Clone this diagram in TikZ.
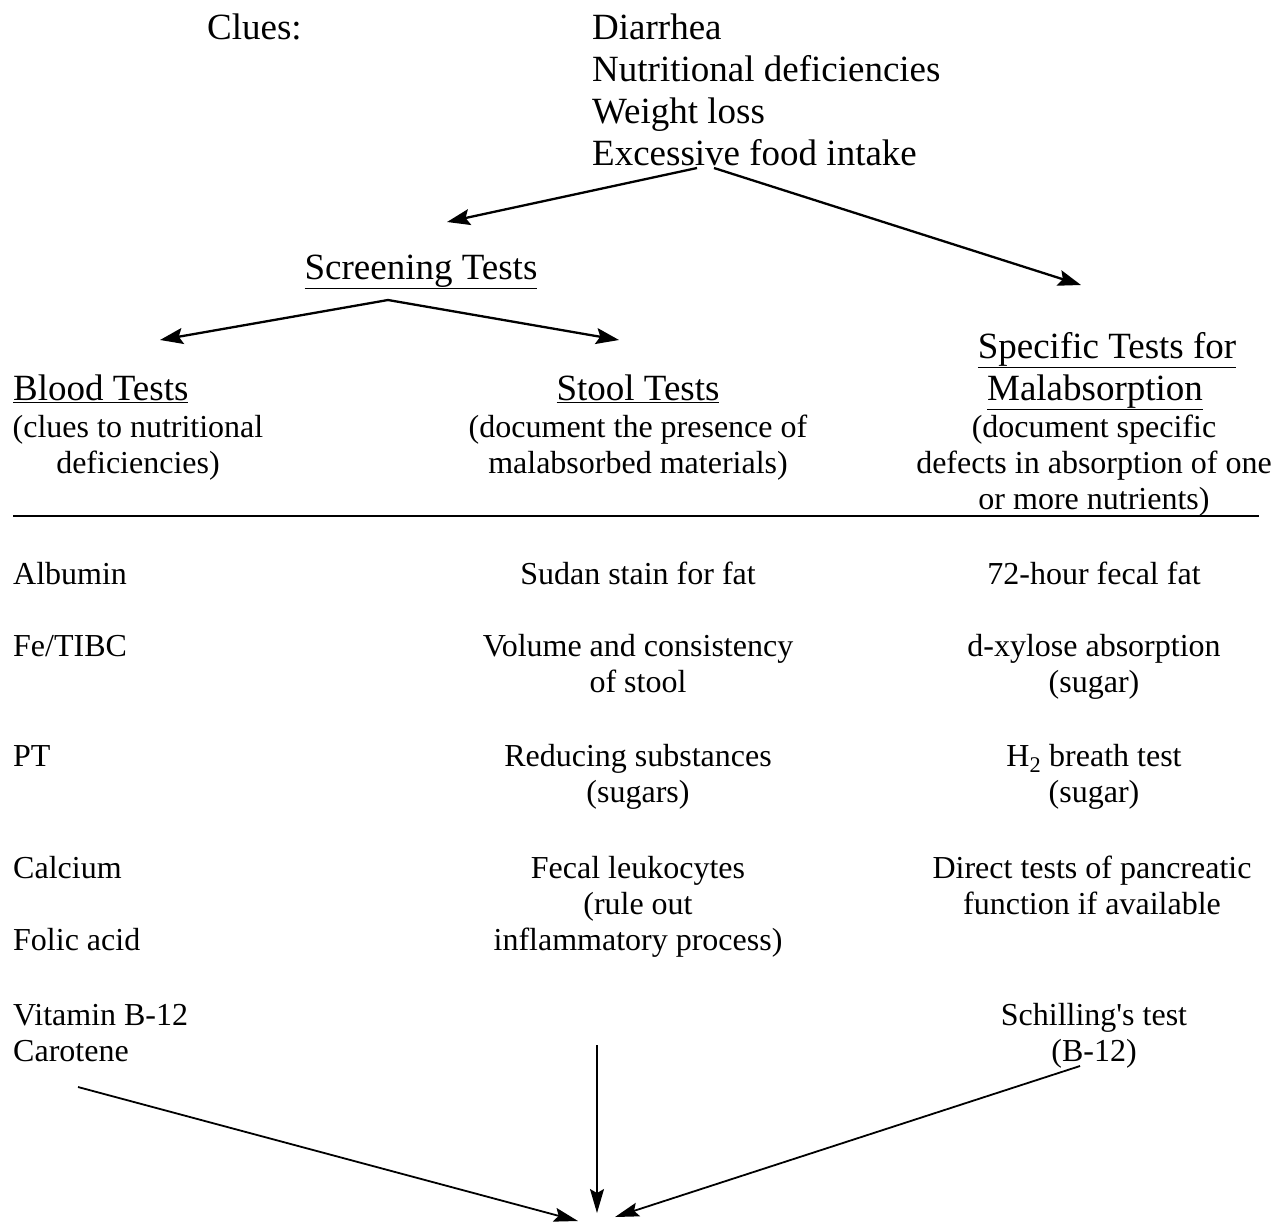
\documentclass[tikz,border=0pt]{standalone}
\usepackage{fontspec}
\setmainfont{Liberation Serif}
\usetikzlibrary{arrows.meta}

\begin{document}
\begin{tikzpicture}[x=1pt, y=-1pt]
    \tikzstyle{big text}=[
        font = \fontsize{37}{42}\selectfont,
        inner sep = 0pt
    ]
    \tikzstyle{body text}=[
        font = \fontsize{32}{36}\selectfont,
        inner sep = 0pt,
        align = center
    ]
    \tikzstyle{flow}=[
        line width = 2.3pt,
        -{Stealth[length=23pt, width=16pt, inset=4pt]}
    ]
    \tikzstyle{merge}=[
        line width = 1.8pt,
        -{Stealth[length=24pt, width=14pt, inset=4pt]}
    ]

    \useasboundingbox (0, 0) rectangle (1277, 1224);

    % clues (multi-line nodes sit on the base of their last line)
	\node[big text, anchor=base west] (clues)     at (207, 39)  {Clues:};
	\node[big text, anchor=base west, align=left] (clue list) at (592, 165)
        {Diarrhea\\Nutritional deficiencies\\Weight loss\\Excessive food intake};

    % headings
	\node[big text, anchor=base] (screening) at (421, 279) {\underline{Screening Tests}};
	\node[big text, anchor=base west] (blood)  at (13, 400)  {\underline{Blood Tests}};
	\node[big text, anchor=base] (stool)       at (638, 400) {\underline{Stool Tests}};
	\node[big text, anchor=base] (specific)    at (1107, 358) {\underline{Specific Tests for}};
	\node[big text, anchor=base] (malabs)      at (1095, 400) {\underline{Malabsorption}};

	\node[body text, anchor=base] (blood note)    at (138, 473)  {(clues to nutritional\\deficiencies)};
	\node[body text, anchor=base] (stool note)    at (638, 473)  {(document the presence of\\malabsorbed materials)};
	\node[body text, anchor=base] (specific note) at (1094, 509) {(document specific\\defects in absorption of one\\or more nutrients)};

    \coordinate (rule a) at (13, 516);
    \coordinate (rule b) at (1259, 516);
	\draw[line width=1.8pt] (rule a) -- (rule b);

    % blood tests
	\node[body text, anchor=base west] (albumin)  at (13, 584)  {Albumin};
	\node[body text, anchor=base west] (fetibc)   at (13, 656)  {Fe/TIBC};
	\node[body text, anchor=base west] (pt)       at (13, 766)  {PT};
	\node[body text, anchor=base west] (calcium)  at (13, 878)  {Calcium};
	\node[body text, anchor=base west] (folic)    at (13, 950)  {Folic acid};
	\node[body text, anchor=base west] (vitb)     at (13, 1025) {Vitamin B-12};
	\node[body text, anchor=base west] (carotene) at (13, 1061) {Carotene};

    % stool tests
	\node[body text, anchor=base] (sudan)     at (638, 584) {Sudan stain for fat};
	\node[body text, anchor=base] (volume)    at (638, 692) {Volume and consistency\\of stool};
	\node[body text, anchor=base] (reducing)  at (638, 802) {Reducing substances\\(sugars)};
	\node[body text, anchor=base] (leuko)     at (638, 950) {Fecal leukocytes\\(rule out\\inflammatory process)};

    % specific tests
	\node[body text, anchor=base] (fecal fat) at (1094, 584)  {72-hour fecal fat};
	\node[body text, anchor=base] (xylose)    at (1094, 692)  {d-xylose absorption\\(sugar)};
	\node[body text, anchor=base] (breath)    at (1094, 802)  {H\textsubscript{2} breath test\\(sugar)};
	\node[body text, anchor=base] (pancreas)  at (1092, 914)  {Direct tests of pancreatic\\function if available};
	\node[body text, anchor=base] (schilling) at (1094, 1061) {Schilling\textquotesingle s test\\(B-12)};

    % arrow ends
    \coordinate (clue out a)  at (697, 168);
    \coordinate (clue out b)  at (714, 168);
    \coordinate (screen in)   at (447, 222);
    \coordinate (specific in) at (1081, 285);
    \coordinate (screen out)  at (388, 300);
    \coordinate (blood in)    at (160, 340);
    \coordinate (stool in)    at (619, 340);
    \coordinate (blood out)   at (78, 1087);
    \coordinate (stool out)   at (597, 1045);
    \coordinate (spec out)    at (1080, 1066);
    \coordinate (end a)       at (578, 1221);
    \coordinate (end b)       at (597, 1213);
    \coordinate (end c)       at (615, 1217);

	\draw[flow] (clue out a) -- (screen in);
	\draw[flow] (clue out b) -- (specific in);
	\draw[flow] (screen out) -- (blood in);
	\draw[flow] (screen out) -- (stool in);
	\draw[merge] (blood out) -- (end a);
	\draw[merge, line width=1.2pt] (stool out) -- (end b);
	\draw[merge] (spec out) -- (end c);

\end{tikzpicture}
\end{document}
